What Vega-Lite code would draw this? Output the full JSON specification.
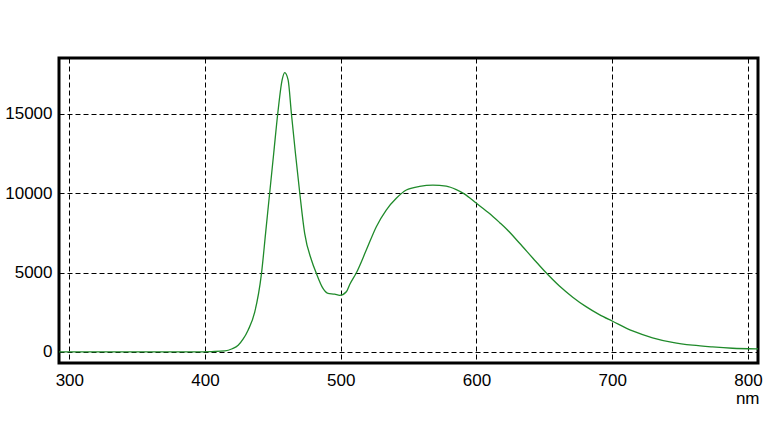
{
  "$schema": "https://vega.github.io/schema/vega-lite/v6.json",
  "width": 699,
  "height": 305,
  "autosize": {"type": "none"},
  "padding": {"left": 59, "top": 58, "right": 10, "bottom": 85},
  "background": "white",
  "config": {
    "view": {"stroke": "black", "strokeWidth": 3},
    "font": "Liberation Sans"
  },
  "data": {
    "values": [
      {"nm": 290, "v": 0}, {"nm": 330, "v": 0}, {"nm": 370, "v": 0}, {"nm": 392.5, "v": 0},
      {"nm": 405, "v": 20}, {"nm": 414.6, "v": 60}, {"nm": 420, "v": 200}, {"nm": 424.4, "v": 420},
      {"nm": 428, "v": 800}, {"nm": 431.7, "v": 1370}, {"nm": 436.6, "v": 2500}, {"nm": 441.6, "v": 4950},
      {"nm": 444.6, "v": 7470}, {"nm": 447.6, "v": 10000}, {"nm": 450.6, "v": 12520}, {"nm": 453.6, "v": 15040},
      {"nm": 456.8, "v": 17140}, {"nm": 458.7, "v": 17600}, {"nm": 461.2, "v": 17140}, {"nm": 463.6, "v": 15040},
      {"nm": 466.6, "v": 12520}, {"nm": 469.8, "v": 10000}, {"nm": 473.4, "v": 7470}, {"nm": 478.4, "v": 5790},
      {"nm": 482.0, "v": 4950}, {"nm": 486.9, "v": 4000}, {"nm": 490.6, "v": 3685}, {"nm": 495.5, "v": 3640},
      {"nm": 499.2, "v": 3560}, {"nm": 504.1, "v": 3790}, {"nm": 506.6, "v": 4250}, {"nm": 511.5, "v": 4985},
      {"nm": 518.8, "v": 6415}, {"nm": 526.2, "v": 7890}, {"nm": 533.5, "v": 8940}, {"nm": 540.9, "v": 9680},
      {"nm": 548.3, "v": 10200}, {"nm": 558.1, "v": 10430}, {"nm": 567.9, "v": 10510}, {"nm": 577.7, "v": 10450},
      {"nm": 585.1, "v": 10230}, {"nm": 591.0, "v": 9960}, {"nm": 600.0, "v": 9360}, {"nm": 609.6, "v": 8720},
      {"nm": 616.9, "v": 8160}, {"nm": 621.9, "v": 7760}, {"nm": 631.6, "v": 6860}, {"nm": 641.4, "v": 5920},
      {"nm": 651.3, "v": 4985}, {"nm": 661.1, "v": 4150}, {"nm": 670.9, "v": 3450}, {"nm": 680.7, "v": 2850},
      {"nm": 690.5, "v": 2350}, {"nm": 700.3, "v": 1930}, {"nm": 715.0, "v": 1320}, {"nm": 729.7, "v": 890},
      {"nm": 744.4, "v": 600}, {"nm": 759.2, "v": 420}, {"nm": 773.9, "v": 310}, {"nm": 788.6, "v": 230},
      {"nm": 806, "v": 190}, {"nm": 810, "v": 185}
    ]
  },
  "mark": {"type": "line", "color": "#1f8a2a", "strokeWidth": 1.3, "interpolate": "monotone", "clip": true},
  "encoding": {
    "x": {
      "field": "nm", "type": "quantitative",
      "scale": {"domain": [292.4, 807.4], "nice": false, "zero": false},
      "axis": {
        "values": [300, 400, 500, 600, 700, 800],
        "format": "d",
        "title": "nm",
        "titleAnchor": "end",
        "titleAlign": "right",
        "titleBaseline": "alphabetic",
        "titleY": 40,
        "titleX": 700,
        "titleFontSize": 17,
        "titleFontWeight": "normal",
        "titleColor": "black",
        "domain": false,
        "ticks": false,
        "tickSize": 0,
        "labelPadding": 9,
        "labelFontSize": 17,
        "labelColor": "black",
        "labelFlush": false,
        "grid": true,
        "gridColor": "black",
        "gridOpacity": 1,
        "gridWidth": 1,
        "gridDash": [5, 3]
      }
    },
    "y": {
      "field": "v", "type": "quantitative",
      "scale": {"domain": [-700, 18520], "nice": false, "zero": false},
      "axis": {
        "values": [0, 5000, 10000, 15000],
        "format": "d",
        "title": null,
        "domain": false,
        "ticks": false,
        "tickSize": 0,
        "labelPadding": 7,
        "labelFontSize": 17,
        "labelColor": "black",
        "labelFlush": false,
        "grid": true,
        "gridColor": "black",
        "gridOpacity": 1,
        "gridWidth": 1,
        "gridDash": [5, 3]
      }
    }
  }
}
